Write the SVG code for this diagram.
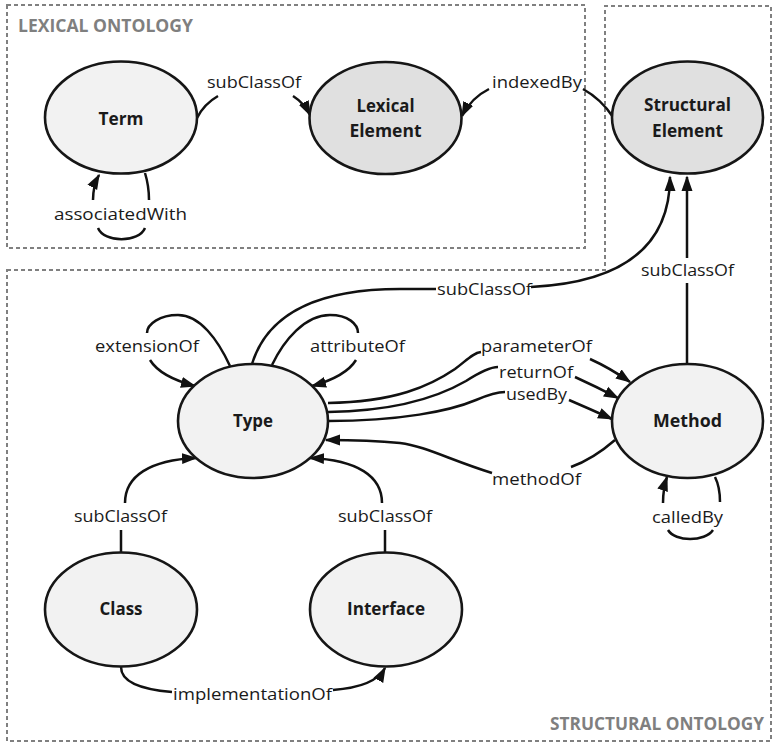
<svg xmlns="http://www.w3.org/2000/svg" width="775" height="743" viewBox="0 0 775 743">
<defs>
<style>
.box{fill:none;stroke:#808080;stroke-width:2;stroke-dasharray:4,3}
.title{font-family:"Open Sans","Liberation Sans",sans-serif;font-weight:bold;font-size:17.5px;fill:#7f7f7f}
.node{stroke:#161616;stroke-width:2.6}
.light{fill:#f2f2f2}
.dark{fill:#e0e0e0}
.nl{font-family:"Open Sans","Liberation Sans",sans-serif;font-weight:bold;font-size:17.5px;fill:#1a1a1a;text-anchor:middle}
.edge{fill:none;stroke:#111;stroke-width:2.5}
.arr{marker-end:url(#ah)}
.el{font-family:"Open Sans","Liberation Sans",sans-serif;font-size:17px;fill:#1a1a1a;text-anchor:middle}
</style>
<marker id="ah" markerUnits="userSpaceOnUse" viewBox="0 0 16 12" markerWidth="16" markerHeight="12" refX="14" refY="6" orient="auto">
<path d="M0,0.5 L15.5,6 L0,11.5 z" fill="#111"/>
</marker>
</defs>
<rect width="775" height="743" fill="#fff"/>

<g id="frames">
<rect class="box" x="7" y="5" width="578" height="243"/>
<path class="box" d="M7,270 L605,270 L605,6 L771,6 L771,741 L7,741 Z"/>
<text class="title" x="105.5" y="32" text-anchor="middle" textLength="175" lengthAdjust="spacingAndGlyphs">LEXICAL ONTOLOGY</text>
<text class="title" x="657" y="730" text-anchor="middle" textLength="214" lengthAdjust="spacingAndGlyphs">STRUCTURAL ONTOLOGY</text>
</g>

<g id="connectors">
<g id="e-term-lex">
<path class="edge arr" d="M197,118 Q204,104 218,96 M293,96 Q304,103 310,115"/>
<text class="el" x="254" y="88" textLength="94" lengthAdjust="spacingAndGlyphs">subClassOf</text>
</g>
<g id="e-term-assoc">
<path class="edge arr" d="M145,173 Q149,186 149,200 M145,228 C139,243 104,243 98,228 M93,200 Q93,186 99,175"/>
<text class="el" x="120.5" y="220" textLength="133" lengthAdjust="spacingAndGlyphs">associatedWith</text>
</g>
<g id="e-struct-lex">
<path class="edge arr" d="M613,117 Q601,99 583,89 M489,89 Q471,98 462,116"/>
<text class="el" x="537" y="88" textLength="90" lengthAdjust="spacingAndGlyphs">indexedBy</text>
</g>
<g id="e-type-struct">
<path class="edge arr" d="M252,364 C268,312 320,289 400,289 L436,289 M531,287 C610,283 670,255 670,177"/>
<text class="el" x="484.5" y="295" textLength="95" lengthAdjust="spacingAndGlyphs">subClassOf</text>
</g>
<g id="e-method-struct">
<path class="edge arr" d="M687,364 L687,283 M687,258 L687,177"/>
<text class="el" x="687.5" y="276" textLength="93" lengthAdjust="spacingAndGlyphs">subClassOf</text>
</g>
<g id="e-type-ext">
<path class="edge arr" d="M230,366 C218,340 200,315 178,315 C160,315 147,324 147,333 M150,360 C158,373 176,381 195,386"/>
<text class="el" x="147" y="352" textLength="104" lengthAdjust="spacingAndGlyphs">extensionOf</text>
</g>
<g id="e-type-attr">
<path class="edge arr" d="M272,365 C284,340 305,315 330,315 C348,315 358,324 358,333 M356,360 C348,373 330,381 312,386"/>
<text class="el" x="357.5" y="352" textLength="95" lengthAdjust="spacingAndGlyphs">attributeOf</text>
</g>
<g id="e-param">
<path class="edge arr" d="M328,403 C395,402 430,386 455,369 C467,360 473,353 481,352 M590,359 Q610,368 630,382"/>
<text class="el" x="536.5" y="352" textLength="111" lengthAdjust="spacingAndGlyphs">parameterOf</text>
</g>
<g id="e-return">
<path class="edge arr" d="M328,412 C400,411 440,396 466,381 C480,372 490,367 498,367 M575,377 Q597,387 618,398"/>
<text class="el" x="536" y="378" textLength="74" lengthAdjust="spacingAndGlyphs">returnOf</text>
</g>
<g id="e-used">
<path class="edge arr" d="M328,421 C400,421 450,411 476,400 C490,394 498,392 505,392 M569,400 Q590,409 612,419"/>
<text class="el" x="536.5" y="400" textLength="61" lengthAdjust="spacingAndGlyphs">usedBy</text>
</g>
<g id="e-methodof">
<path class="edge arr" d="M615,440 C600,453 585,462 571,467 M492,473 C450,460 425,446 400,443 C370,440 345,440 326,440"/>
<text class="el" x="536.5" y="485" textLength="89" lengthAdjust="spacingAndGlyphs">methodOf</text>
</g>
<g id="e-called">
<path class="edge arr" d="M715,477 C719,485 720,494 720,502 M713,530 C705,542 675,542 668,530 M663,503 C663,494 664,486 667,477"/>
<text class="el" x="687.5" y="523" textLength="71" lengthAdjust="spacingAndGlyphs">calledBy</text>
</g>
<g id="e-class-type">
<path class="edge arr" d="M121,552 L121,530 M125,503 C125,476 150,460 196,458"/>
<text class="el" x="120.5" y="522" textLength="93" lengthAdjust="spacingAndGlyphs">subClassOf</text>
</g>
<g id="e-iface-type">
<path class="edge arr" d="M385,552 L385,530 M382,503 C382,476 357,460 310,458"/>
<text class="el" x="385" y="522" textLength="94" lengthAdjust="spacingAndGlyphs">subClassOf</text>
</g>
<g id="e-impl">
<path class="edge arr" d="M121,667 C121,684 148,690 172,692 M333,690 C360,688 378,681 385,668"/>
<text class="el" x="252.5" y="700" textLength="159" lengthAdjust="spacingAndGlyphs">implementationOf</text>
</g>
</g>

<g id="n-term">
<ellipse class="node light" cx="121" cy="117.5" rx="76" ry="56"/>
<text class="nl" x="121" y="125" textLength="45" lengthAdjust="spacingAndGlyphs">Term</text>
</g>
<g id="n-lexical">
<ellipse class="node dark" cx="385.5" cy="118" rx="76" ry="56"/>
<text class="nl" x="385.5" y="112" textLength="58" lengthAdjust="spacingAndGlyphs">Lexical</text>
<text class="nl" x="385.5" y="137" textLength="72" lengthAdjust="spacingAndGlyphs">Element</text>
</g>
<g id="n-structural">
<ellipse class="node dark" cx="687.5" cy="117.5" rx="75.5" ry="56"/>
<text class="nl" x="687.5" y="111" textLength="87" lengthAdjust="spacingAndGlyphs">Structural</text>
<text class="nl" x="687.5" y="137" textLength="71" lengthAdjust="spacingAndGlyphs">Element</text>
</g>
<g id="n-type">
<ellipse class="node light" cx="253" cy="421" rx="75" ry="57"/>
<text class="nl" x="253" y="427" textLength="40" lengthAdjust="spacingAndGlyphs">Type</text>
</g>
<g id="n-method">
<ellipse class="node light" cx="687.5" cy="421" rx="75.5" ry="57"/>
<text class="nl" x="687.5" y="427" textLength="69" lengthAdjust="spacingAndGlyphs">Method</text>
</g>
<g id="n-class">
<ellipse class="node light" cx="121" cy="609.5" rx="76" ry="57"/>
<text class="nl" x="121" y="615" textLength="43" lengthAdjust="spacingAndGlyphs">Class</text>
</g>
<g id="n-interface">
<ellipse class="node light" cx="386" cy="609.5" rx="76" ry="57"/>
<text class="nl" x="386" y="615" textLength="78" lengthAdjust="spacingAndGlyphs">Interface</text>
</g>
</svg>
